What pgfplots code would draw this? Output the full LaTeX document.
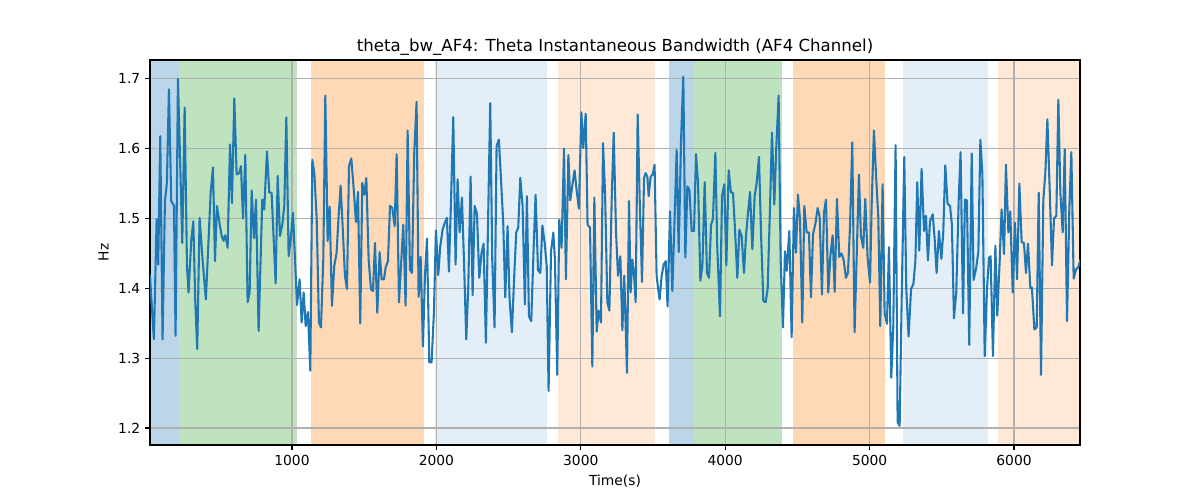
\documentclass[border=0pt]{standalone}
\usepackage{pgfplots}
\pgfplotsset{compat=1.18}
\usepackage{fontspec}
\setmainfont{DejaVu Sans}
\definecolor{tabblue}{RGB}{31,119,180}
\definecolor{tabgreen}{RGB}{44,160,44}
\definecolor{taborange}{RGB}{255,127,14}
\definecolor{gridc}{RGB}{176,176,176}
\begin{document}
\begin{tikzpicture}
\begin{axis}[
  set layers,
  at={(1.5in,0.55in)}, anchor=south west,
  scale only axis, width=9.3in, height=3.85in,
  xmin=17, xmax=6457, ymin=1.1756, ymax=1.727,
  xtick={1000,2000,3000,4000,5000,6000},
  ytick={1.2,1.3,1.4,1.5,1.6,1.7},
  yticklabel style={/pgf/number format/.cd,fixed,fixed zerofill,precision=1},
  xticklabel style={/pgf/number format/1000 sep={}},
  /pgf/number format/assume math mode=true,
  tick label style={font=\fontsize{10}{12}\selectfont},
  label style={font=\fontsize{10}{12}\selectfont},
  title style={font=\fontsize{12}{14}\selectfont, yshift=-6.5pt},
  title={theta\_bw\_AF4: Theta Instantaneous Bandwidth (AF4 Channel)},
  xlabel={Time(s)}, ylabel={Hz},
  grid=major, major grid style={gridc, line width=0.8bp},
  tick align=outside, major tick length=3.5bp, tick style={black, line width=0.8bp},
  xtick pos=left, ytick pos=left,
  axis line style={black, line width=0.8bp},
  clip=true,
  span/.style={draw=none, on layer=axis background},
]
\addplot[span, fill=tabblue, fill opacity=0.3] coordinates {(17,1.1756) (215,1.1756) (215,1.727) (17,1.727)} -- cycle;
\addplot[span, fill=tabgreen, fill opacity=0.3] coordinates {(215,1.1756) (1037,1.1756) (1037,1.727) (215,1.727)} -- cycle;
\addplot[span, fill=taborange, fill opacity=0.3] coordinates {(1131,1.1756) (1912,1.1756) (1912,1.727) (1131,1.727)} -- cycle;
\addplot[span, fill=tabblue, fill opacity=0.12] coordinates {(1990,1.1756) (2764,1.1756) (2764,1.727) (1990,1.727)} -- cycle;
\addplot[span, fill=taborange, fill opacity=0.17] coordinates {(2842,1.1756) (3512,1.1756) (3512,1.727) (2842,1.727)} -- cycle;
\addplot[span, fill=tabblue, fill opacity=0.3] coordinates {(3611,1.1756) (3782,1.1756) (3782,1.727) (3611,1.727)} -- cycle;
\addplot[span, fill=tabgreen, fill opacity=0.3] coordinates {(3782,1.1756) (4391,1.1756) (4391,1.727) (3782,1.727)} -- cycle;
\addplot[span, fill=taborange, fill opacity=0.3] coordinates {(4472,1.1756) (5107,1.1756) (5107,1.727) (4472,1.727)} -- cycle;
\addplot[span, fill=tabblue, fill opacity=0.12] coordinates {(5231,1.1756) (5820,1.1756) (5820,1.727) (5231,1.727)} -- cycle;
\addplot[span, fill=taborange, fill opacity=0.17] coordinates {(5887,1.1756) (6457,1.1756) (6457,1.727) (5887,1.727)} -- cycle;
\addplot[tabblue, line width=1.5bp, line join=round] table {
17 1.420
23.5 1.394
44 1.327
63 1.499
74 1.434
88 1.618
104 1.327
120.5 1.525
134 1.551
148 1.685
164 1.525
183 1.518
194 1.332
210.5 1.700
240.5 1.465
257 1.659
273 1.432
284 1.394
303 1.470
317 1.496
330.5 1.380
344 1.313
360.5 1.501
381 1.441
404 1.384
437 1.537
453 1.573
467 1.439
480.6 1.518
494 1.499
513 1.475
527 1.468
536 1.476
545 1.470
554.5 1.458
571 1.606
584.5 1.522
600.6 1.672
617 1.563
635 1.565
647 1.575
661 1.500
677 1.591
693 1.380
707 1.394
721 1.540
737 1.472
751 1.527
769 1.339
794.5 1.527
808 1.513
827 1.596
843 1.537
859 1.537
887 1.407
901 1.561
917 1.475
933 1.491
947 1.518
961 1.645
977 1.446
991 1.470
1007 1.508
1035 1.376
1053 1.413
1067 1.351
1081 1.394
1095 1.346
1111 1.366
1127 1.282
1141 1.584
1155 1.565
1171 1.501
1187 1.351
1201 1.344
1217 1.441
1231 1.676
1247 1.468
1261 1.517
1277 1.375
1293 1.432
1309 1.451
1323 1.503
1337 1.547
1353 1.480
1367 1.418
1381 1.399
1395 1.575
1411 1.586
1427 1.544
1443 1.495
1457 1.538
1473 1.350
1487 1.551
1501 1.534
1515 1.558
1531 1.441
1547 1.399
1561 1.396
1575 1.465
1591 1.365
1607 1.452
1621 1.413
1637 1.413
1649 1.430
1665 1.439
1679 1.518
1695 1.515
1711 1.489
1725 1.592
1741 1.380
1755 1.432
1771 1.491
1787 1.375
1801 1.626
1817 1.427
1831 1.422
1847 1.594
1863 1.667
1877 1.388
1891 1.445
1907 1.317
1921 1.418
1935 1.471
1951 1.294
1967 1.294
1983 1.365
1997 1.483
2013 1.419
2027 1.460
2043 1.484
2059 1.494
2073 1.501
2087 1.424
2103 1.537
2117 1.645
2133 1.434
2147 1.556
2161 1.480
2177 1.530
2191 1.441
2207 1.327
2221 1.403
2237 1.560
2251 1.390
2265 1.518
2281 1.507
2297 1.415
2313 1.451
2327 1.464
2343 1.322
2357 1.484
2373 1.665
2387 1.441
2403 1.344
2417 1.604
2433 1.613
2447 1.558
2463 1.494
2477 1.387
2493 1.489
2507 1.384
2523 1.337
2540 1.422
2553 1.480
2567 1.487
2581 1.558
2597 1.518
2613 1.377
2627 1.532
2641 1.360
2657 1.353
2674 1.460
2687 1.534
2704 1.426
2720 1.422
2734 1.490
2750 1.465
2764 1.432
2777 1.253
2794 1.453
2810 1.480
2821 1.441
2837 1.276
2851 1.498
2867 1.458
2884 1.600
2897 1.413
2914 1.591
2927 1.526
2944 1.551
2957 1.569
2971 1.541
2987 1.514
3004 1.652
3017 1.601
3034 1.650
3047 1.491
3064 1.487
3080 1.288
3094 1.530
3110 1.338
3124 1.368
3140 1.351
3154 1.608
3168 1.537
3184 1.380
3198 1.368
3214 1.527
3228 1.623
3244 1.480
3258 1.418
3274 1.446
3288 1.340
3301 1.418
3320 1.279
3334 1.525
3345 1.394
3357 1.441
3368 1.422
3380 1.380
3394 1.649
3408 1.527
3424 1.409
3438 1.558
3449 1.565
3461 1.560
3470 1.532
3484 1.560
3498 1.563
3511 1.577
3525 1.418
3539 1.394
3546 1.384
3560 1.418
3574 1.434
3588 1.439
3601 1.374
3618 1.510
3634 1.396
3648 1.489
3664 1.598
3678 1.452
3694 1.609
3710 1.703
3724 1.444
3738 1.546
3752 1.541
3768 1.482
3784 1.482
3798 1.592
3812 1.551
3828 1.411
3842 1.432
3858 1.552
3874 1.422
3888 1.415
3902 1.491
3915 1.499
3932 1.594
3945 1.460
3964 1.360
3978 1.532
3994 1.549
4008 1.433
4024 1.569
4040 1.537
4054 1.537
4068 1.484
4084 1.415
4098 1.484
4114 1.475
4130 1.422
4144 1.475
4158 1.508
4172 1.538
4188 1.456
4204 1.532
4218 1.551
4234 1.588
4248 1.480
4264 1.382
4280 1.380
4294 1.399
4310 1.513
4324 1.623
4340 1.520
4354 1.603
4370 1.676
4384 1.441
4400 1.344
4414 1.453
4426 1.425
4444 1.482
4460 1.330
4476 1.515
4490 1.451
4504 1.534
4518 1.499
4534 1.351
4548 1.518
4564 1.480
4580 1.480
4594 1.387
4608 1.477
4626 1.494
4640 1.515
4654 1.503
4670 1.391
4684 1.508
4698 1.527
4714 1.394
4728 1.446
4744 1.476
4758 1.395
4774 1.528
4790 1.445
4806 1.450
4820 1.441
4836 1.415
4850 1.422
4864 1.487
4880 1.609
4896 1.337
4910 1.441
4926 1.563
4940 1.475
4956 1.458
4970 1.528
4986 1.444
5003 1.408
5014 1.518
5030 1.626
5046 1.556
5060 1.503
5074 1.346
5090 1.549
5104 1.365
5120 1.349
5134 1.459
5150 1.272
5164 1.346
5180 1.605
5194 1.208
5208 1.203
5222 1.384
5240 1.588
5254 1.399
5270 1.331
5287 1.399
5303 1.406
5317 1.439
5330 1.552
5344 1.454
5360 1.571
5377 1.482
5390 1.504
5404 1.440
5418 1.496
5437 1.506
5450 1.472
5464 1.422
5480 1.482
5497 1.442
5510 1.480
5524 1.576
5540 1.521
5557 1.518
5570 1.491
5584 1.357
5600 1.394
5617 1.527
5630 1.595
5647 1.364
5660 1.527
5674 1.526
5690 1.319
5707 1.593
5720 1.412
5737 1.428
5753 1.452
5767 1.613
5781 1.563
5797 1.303
5813 1.399
5827 1.444
5838 1.446
5854 1.303
5871 1.461
5884 1.361
5901 1.441
5914 1.513
5931 1.449
5944 1.577
5961 1.480
5974 1.510
5991 1.394
6007 1.494
6021 1.413
6037 1.550
6053 1.466
6069 1.465
6083 1.422
6097 1.464
6113 1.400
6124 1.401
6141 1.341
6157 1.344
6171 1.537
6187 1.276
6203 1.527
6217 1.565
6231 1.642
6247 1.542
6263 1.433
6277 1.500
6293 1.504
6307 1.670
6321 1.537
6337 1.480
6351 1.599
6367 1.353
6383 1.513
6397 1.595
6413 1.414
6429 1.427
6445 1.430
6459 1.441
};
\end{axis}
\pgfresetboundingbox
\useasboundingbox (0,0) rectangle (12in,5in);
\end{tikzpicture}
\end{document}
